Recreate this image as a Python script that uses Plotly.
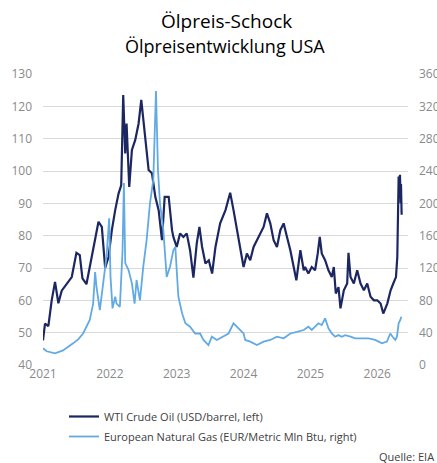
import plotly.graph_objects as go

# ---- data (decimal years) ----
wti_t = [2021.00, 2021.03, 2021.08, 2021.13, 2021.18, 2021.23, 2021.28, 2021.355, 2021.43, 2021.50,
         2021.55, 2021.59, 2021.65, 2021.69, 2021.78, 2021.83, 2021.88, 2021.93, 2021.98, 2022.03,
         2022.08, 2022.13, 2022.17, 2022.20, 2022.23, 2022.25, 2022.29, 2022.33, 2022.38, 2022.43,
         2022.47, 2022.50, 2022.54, 2022.58, 2022.63, 2022.68, 2022.73, 2022.78, 2022.82, 2022.88,
         2022.93, 2022.95, 2023.00, 2023.05, 2023.10, 2023.15, 2023.20, 2023.25, 2023.30, 2023.34,
         2023.38, 2023.43, 2023.48, 2023.53, 2023.58, 2023.65, 2023.73, 2023.80, 2023.85, 2023.90,
         2023.95, 2024.00, 2024.05, 2024.10, 2024.15, 2024.20, 2024.25, 2024.30, 2024.35, 2024.40,
         2024.45, 2024.50, 2024.55, 2024.60, 2024.65, 2024.70, 2024.75, 2024.79, 2024.85, 2024.90,
         2024.92, 2024.97, 2025.02, 2025.07, 2025.11, 2025.14, 2025.17, 2025.22, 2025.27, 2025.32,
         2025.35, 2025.38, 2025.42, 2025.45, 2025.50, 2025.55, 2025.57, 2025.60, 2025.65, 2025.70,
         2025.75, 2025.80, 2025.85, 2025.90, 2025.95, 2026.00, 2026.05, 2026.09, 2026.15, 2026.20,
         2026.24, 2026.28, 2026.30, 2026.31, 2026.32, 2026.33, 2026.34, 2026.35, 2026.355, 2026.365]
wti_v = [47.6, 52.8, 52.0, 60.0, 65.7, 59.1, 63.0, 65.2, 67.2, 74.7,
         74.0, 66.8, 65.0, 69.3, 79.6, 84.3, 82.7, 70.0, 73.4, 81.7,
         87.9, 93.0, 95.6, 123.5, 105.4, 114.7, 95.1, 106.5, 109.6, 114.7,
         122.0, 115.8, 108.5, 100.3, 99.3, 92.0, 87.9, 78.6, 92.0, 92.0,
         81.7, 79.6, 76.5, 80.7, 79.6, 80.7, 75.5, 67.0, 77.6, 82.7,
         76.5, 71.4, 72.4, 68.3, 76.5, 83.8, 87.9, 93.3, 87.9, 81.7,
         75.5, 70.3, 74.5, 72.4, 76.5, 78.6, 80.7, 82.7, 86.9, 83.8,
         78.6, 76.5, 81.7, 83.8, 79.6, 75.5, 70.3, 66.2, 75.5, 69.3,
         70.3, 68.3, 70.3, 69.3, 74.5, 79.6, 74.5, 72.4, 69.3, 67.2,
         70.3, 62.1, 64.1, 57.5, 63.1, 65.2, 74.7, 67.2, 65.2, 69.3,
         65.2, 63.1, 65.2, 61.1, 60.0, 60.0, 59.0, 55.9, 59.0, 63.1,
         65.2, 67.2, 73.4, 86.9, 98.3, 95.0, 98.8, 90.0, 96.0, 86.5]

gas_t = [2021.00, 2021.055, 2021.18, 2021.30, 2021.45, 2021.53, 2021.60, 2021.70, 2021.75, 2021.78,
         2021.80, 2021.85, 2021.90, 2021.95, 2021.99, 2022.01, 2022.04, 2022.08, 2022.10, 2022.15,
         2022.19, 2022.21, 2022.23, 2022.28, 2022.33, 2022.37, 2022.40, 2022.45, 2022.50, 2022.55,
         2022.60, 2022.65, 2022.69, 2022.72, 2022.75, 2022.80, 2022.85, 2022.90, 2022.95, 2022.98,
         2023.00, 2023.025, 2023.08, 2023.13, 2023.20, 2023.275, 2023.35, 2023.40, 2023.475, 2023.525,
         2023.60, 2023.70, 2023.775, 2023.85, 2023.925, 2024.00, 2024.025, 2024.10, 2024.20, 2024.30,
         2024.40, 2024.50, 2024.60, 2024.70, 2024.80, 2024.90, 2024.97, 2025.02, 2025.07, 2025.12,
         2025.17, 2025.22, 2025.27, 2025.32, 2025.37, 2025.42, 2025.47, 2025.52, 2025.60, 2025.67,
         2025.77, 2025.87, 2025.97, 2026.07, 2026.145, 2026.195, 2026.23, 2026.27, 2026.295, 2026.32,
         2026.345, 2026.36]
gas_v = [20.7, 17.0, 14.5, 18.0, 26.8, 32.0, 39.0, 55.7, 76.0, 115.0,
         97.0, 68.0, 101.0, 134.0, 181.5, 109.0, 70.0, 84.5, 76.0, 72.0,
         142.0, 225.0, 126.0, 117.5, 101.0, 76.0, 105.0, 80.0, 121.6, 154.6,
         200.0, 229.0, 339.0, 241.0, 200.0, 167.0, 109.0, 121.6, 142.0, 146.0,
         117.5, 84.5, 64.0, 51.6, 47.4, 39.0, 39.0, 31.0, 24.7, 35.0,
         31.0, 35.0, 39.0, 51.6, 45.4, 39.0, 31.0, 28.9, 24.7, 28.9,
         31.0, 35.0, 33.0, 39.0, 41.0, 43.3, 47.4, 43.3, 47.4, 51.6,
         49.5, 57.7, 45.4, 39.0, 35.0, 37.0, 35.0, 37.0, 35.0, 33.0,
         33.0, 33.0, 31.0, 26.8, 28.9, 39.0, 35.0, 31.0, 35.0, 51.6,
         55.7, 59.8]

years = [2021, 2022, 2023, 2024, 2025, 2026]
year_labels = ["2021", "2022", "2023", "2024", "2025", "2026"]
left_ticks = [40, 50, 60, 70, 80, 90, 100, 110, 120, 130]
right_ticks = [0, 40, 80, 120, 160, 200, 240, 280, 320, 360]

title = "Ölpreis-Schock"
subtitle = "Ölpreisentwicklung USA"
name_wti = "WTI Crude Oil (USD/barrel, left)"
name_gas = "European Natural Gas (EUR/Metric Mln Btu, right)"
source = "Quelle: EIA"

FONT = "Open Sans"
TICK_COLOR = "#8a8a8a"

W, H = 437, 463
ML, MR, MT, MB = 43, 29, 74, 98
plot_h = H - MT - MB
plot_w = W - ML - MR


def py(pix):
    """pixel row from top -> paper y"""
    return (H - MB - pix) / plot_h


def px(pix):
    return (pix - ML) / plot_w


fig = go.Figure()
fig.add_trace(go.Scatter(x=wti_t, y=wti_v, mode="lines", name=name_wti,
                         line=dict(color="#1c2761", width=2.2), legendgroup="a", yaxis="y"))
fig.add_trace(go.Scatter(x=gas_t, y=gas_v, mode="lines", name=name_gas,
                         line=dict(color="#62aae4", width=1.8), legendgroup="b", yaxis="y2"))

fig.update_layout(
    width=W, height=H,
    margin=dict(l=ML, r=MR, t=MT, b=MB, autoexpand=False),
    paper_bgcolor="white", plot_bgcolor="white",
    font=dict(family=FONT, color="#404040"),
    showlegend=True,
    legend=dict(x=px(64), y=py(402), xanchor="left", yanchor="top",
                font=dict(size=11, color="#404040"), traceorder="grouped",
                tracegroupgap=1, bgcolor="rgba(0,0,0,0)"),
    xaxis=dict(range=[2021.0, 2026.46], tickvals=years, ticktext=year_labels,
               showgrid=False, zeroline=False, showline=False, ticks="", automargin=False,
               tickfont=dict(size=12, color=TICK_COLOR, family=FONT)),
    yaxis=dict(range=[40, 130], tickvals=left_ticks, showgrid=True, gridcolor="#d9d9d9",
               gridwidth=1, zeroline=False, showline=False, ticks="", automargin=False,
               ticklabelstandoff=10,
               tickfont=dict(size=12, color=TICK_COLOR, family=FONT)),
    yaxis2=dict(range=[0, 360], tickvals=right_ticks, overlaying="y", side="right",
                showgrid=False, zeroline=False, showline=False, ticks="", automargin=False,
                ticklabelstandoff=10,
                tickfont=dict(size=12, color=TICK_COLOR, family=FONT)),
    annotations=[
        dict(text=title, x=px(226), y=py(21), xref="paper", yref="paper", showarrow=False,
             yanchor="middle", font=dict(size=19, color="#000000", family=FONT)),
        dict(text=subtitle, x=px(225), y=py(46), xref="paper", yref="paper", showarrow=False,
             yanchor="middle", font=dict(size=18, color="#000000", family=FONT)),
        dict(text=source, x=px(436), y=py(456), xref="paper", yref="paper", showarrow=False,
             xanchor="right", yanchor="middle",
             font=dict(size=11, color="#404040", family=FONT)),
    ],
)

fig.write_html("out.html", config={"displayModeBar": False},
               post_script="document.body.style.margin='0';document.body.style.padding='0';")
